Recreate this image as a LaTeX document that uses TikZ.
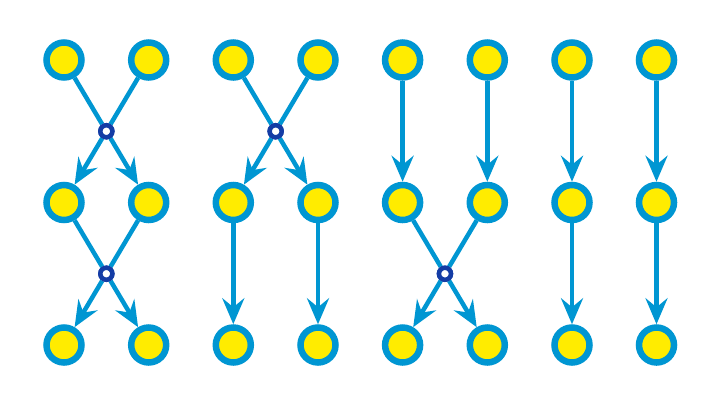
\documentclass[tikz,border=0pt]{standalone}
\usetikzlibrary{arrows.meta,calc}
\definecolor{ringblue}{RGB}{0,150,210}
\definecolor{junblue}{RGB}{20,60,165}
\definecolor{dotyellow}{RGB}{255,236,0}
\begin{document}
\begin{tikzpicture}[x=1bp,y=-1bp,
  dot/.style={circle,draw=ringblue,fill=dotyellow,line width=6.5bp,minimum size=35bp,inner sep=0pt},
  jun/.style={circle,draw=junblue,fill=white,line width=4.5bp,minimum size=12bp,inner sep=0pt},
  link/.style={draw=ringblue,line width=4.5bp},
  arr/.style={link,-{Stealth[length=26bp 0 0,width=22bp 0 0,inset=9bp 0]}}]
\useasboundingbox (0,0) rectangle (720,405);
\foreach \i/\x in {1/64,2/148.7,3/233.3,4/318,5/402.6,6/487.3,7/572,8/656.5}{
  \node[dot] (a\i) at (\x,60) {};
  \node[dot] (b\i) at (\x,202.5) {};
  \node[dot] (c\i) at (\x,345) {};
}
% junctions
\node[jun] (j1) at ($(a1)!0.5!(b2)$) {};
\node[jun] (j2) at ($(a3)!0.5!(b4)$) {};
\node[jun] (j3) at ($(b1)!0.5!(c2)$) {};
\node[jun] (j4) at ($(b5)!0.5!(c6)$) {};
% top row to middle row
\draw[link] (a1) -- (j1); \draw[link] (a2) -- (j1);
\draw[arr] (j1) -- (b1); \draw[arr] (j1) -- (b2);
\draw[link] (a3) -- (j2); \draw[link] (a4) -- (j2);
\draw[arr] (j2) -- (b3); \draw[arr] (j2) -- (b4);
\foreach \i in {5,6,7,8}{ \draw[arr] (a\i) -- (b\i); }
% middle row to bottom row
\draw[link] (b1) -- (j3); \draw[link] (b2) -- (j3);
\draw[arr] (j3) -- (c1); \draw[arr] (j3) -- (c2);
\draw[link] (b5) -- (j4); \draw[link] (b6) -- (j4);
\draw[arr] (j4) -- (c5); \draw[arr] (j4) -- (c6);
\foreach \i in {3,4,7,8}{ \draw[arr] (b\i) -- (c\i); }
% redraw junctions on top
\foreach \j in {j1,j2,j3,j4}{ \node[jun] at (\j) {}; }
\end{tikzpicture}
\end{document}
